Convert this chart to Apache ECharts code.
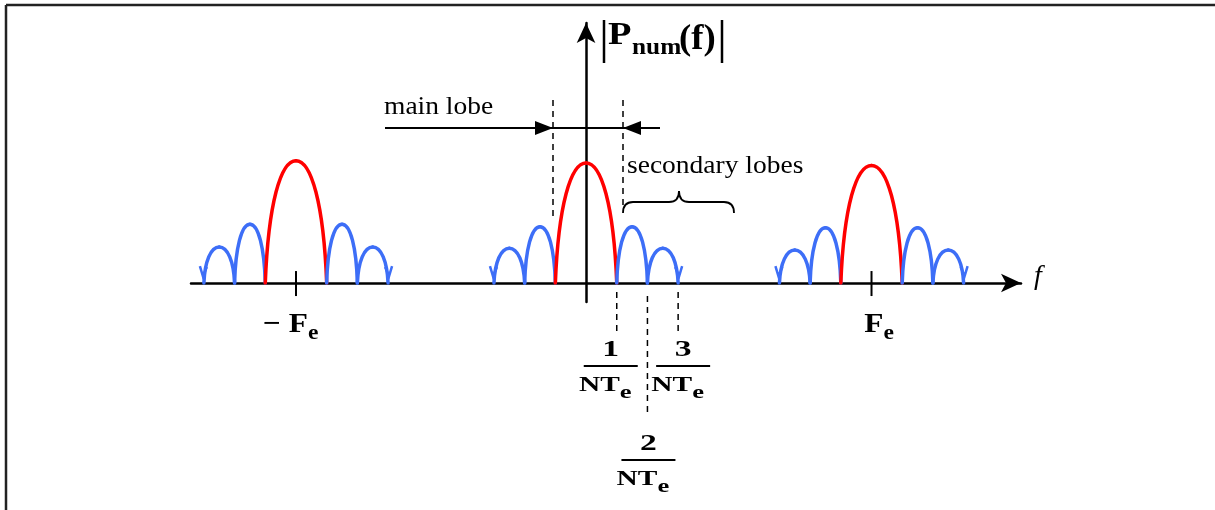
<!DOCTYPE html>
<html>
<head>
<meta charset="utf-8">
<script src="https://cdn.jsdelivr.net/npm/echarts@6/dist/echarts.min.js"></script>
<style>
  html, body { margin: 0; padding: 0; background: #fff; }
  #chart { width: 1215px; height: 510px; }
</style>
</head>
<body>
<div id="chart"></div>
<script>
// |Pnum(f)| : the same lobe pattern repeated around -Fe, 0 and Fe
// x unit = 1/NTe, y unit = height of the central main lobe
const groupNames = ['-Fe', '0', 'Fe'];
const groupCenters = [-9.45, 0, 9.3];
const lobeStarts = [-3, -2, -1, 1, 2];
const lobeEnds = [-2, -1, 1, 2, 3];
const mainLobeHeights = [1.02, 1.0, 0.98];
const firstSideLobeHeights = [0.49, 0.47, 0.46];
const secondSideLobeHeights = [0.3, 0.29, 0.275];
const nullPositions = [1, 2, 3];
const nullNumerators = ['1', '2', '3'];

const RED = '#ff0000';
const BLUE = '#3d6ef7';
const SERIF = '"Liberation Serif", "DejaVu Serif", serif';

// rows: [x0, x1, height, isMain, outerEnd(-1 left, 1 right, 0 none)]
const lobeRows = [];
groupCenters.forEach((c, g) => {
  const heights = [secondSideLobeHeights[g], firstSideLobeHeights[g], mainLobeHeights[g],
    firstSideLobeHeights[g], secondSideLobeHeights[g]];
  lobeStarts.forEach((s, i) => {
    const outer = i === 0 ? -1 : (i === lobeStarts.length - 1 ? 1 : 0);
    lobeRows.push([c + s, c + lobeEnds[i], heights[i], i === 2 ? 1 : 0, outer]);
  });
});

const tickRows = [[groupCenters[0], 0], [groupCenters[2], 1]];
const nullRows = nullPositions.map((p, i) => [p, i]);

function renderLobe(params, api) {
  const x0 = api.value(0), x1 = api.value(1), h = api.value(2);
  const isMain = api.value(3) === 1;
  const outer = api.value(4);
  const a = api.coord([x0, 0]);
  const b = api.coord([x1, 0]);
  const m = api.coord([(x0 + x1) / 2, h]);
  const H = a[1] - m[1];
  const hw = (b[0] - a[0]) / 2;
  const color = isMain ? RED : BLUE;
  const k1 = isMain ? 0.1 : 0.06, k2 = isMain ? 0.5 : 0.55, kv = isMain ? 0.65 : 0.6;
  const style = { stroke: color, lineWidth: 3.5, fill: null, lineCap: 'round' };
  const children = [
    { type: 'bezierCurve', shape: { x1: a[0], y1: a[1], cpx1: a[0] + hw * k1, cpy1: a[1] - H * kv,
      cpx2: m[0] - hw * k2, cpy2: m[1], x2: m[0], y2: m[1] }, style: style },
    { type: 'bezierCurve', shape: { x1: m[0], y1: m[1], cpx1: m[0] + hw * k2, cpy1: m[1],
      cpx2: b[0] - hw * k1, cpy2: b[1] - H * kv, x2: b[0], y2: b[1] }, style: style }
  ];
  if (outer !== 0) {
    const e = outer < 0 ? a : b;
    const d = outer < 0 ? -1 : 1;
    children.push({ type: 'polyline', shape: { points: [[e[0] + d * 4, e[1] - 17], [e[0] + d * 1, e[1] - 7], [e[0] - d * 3, e[1] - 16]] },
      style: { stroke: color, lineWidth: 2.5, fill: null } });
  }
  return { type: 'group', children: children };
}

function renderTick(params, api) {
  const c = api.value(0);
  const isRight = api.value(1) === 1;
  const p = api.coord([c, 0]);
  const anchor = p[0] + 12;
  return {
    type: 'group',
    children: [
      { type: 'line', shape: { x1: p[0], y1: p[1] - 12, x2: p[0], y2: p[1] + 13 }, style: { stroke: '#000', lineWidth: 2 } },
      { type: 'text', x: anchor, y: p[1] + 42, scaleX: 1.12,
        style: { text: isRight ? 'F' : '− F', font: 'bold 28px ' + SERIF, fill: '#000', align: 'right', verticalAlign: 'middle' } },
      { type: 'text', x: anchor, y: p[1] + 51, scaleX: 1.12,
        style: { text: 'e', font: 'bold 21px ' + SERIF, fill: '#000', align: 'left', verticalAlign: 'middle' } }
    ]
  };
}

function renderNull(params, api) {
  const k = api.value(1);
  const p = api.coord([api.value(0), 0]);
  const low = k === 1;
  const shift = [-6, 1, 5][k];
  const cx = p[0] + shift;
  const dashTop = p[1] + (low ? 13 : 9);
  const dashBottom = p[1] + (low ? 133 : 50);
  const base = p[1] + (low ? 177 : 83);
  const stretch = 1.4;
  return {
    type: 'group',
    children: [
      { type: 'line', shape: { x1: p[0], y1: dashTop, x2: p[0], y2: dashBottom },
        style: { stroke: '#000', lineWidth: 1.5, lineDash: [6, 5] } },
      { type: 'text', x: cx, y: base - 16, scaleX: stretch,
        style: { text: nullNumerators[k], font: 'bold 24px ' + SERIF, fill: '#000', align: 'center', verticalAlign: 'middle' } },
      { type: 'line', shape: { x1: cx - 27, y1: base, x2: cx + 27, y2: base }, style: { stroke: '#000', lineWidth: 2 } },
      { type: 'text', x: cx + 9, y: base + 20, scaleX: stretch,
        style: { text: 'NT', font: 'bold 21px ' + SERIF, fill: '#000', align: 'right', verticalAlign: 'middle' } },
      { type: 'text', x: cx + 9, y: base + 27, scaleX: stretch,
        style: { text: 'e', font: 'bold 19px ' + SERIF, fill: '#000', align: 'left', verticalAlign: 'middle' } }
    ]
  };
}

const chart = echarts.init(document.getElementById('chart'));

const option = {
  backgroundColor: '#fff',
  animation: false,
  grid: { left: 191, right: 194, top: 23, bottom: 208 },
  xAxis: {
    type: 'value', min: -12.87, max: 14.17,
    axisLine: { onZero: true, symbol: ['none', 'arrow'], symbolSize: [14, 20], lineStyle: { color: '#000', width: 2.5 } },
    axisTick: { show: false }, axisLabel: { show: false }, splitLine: { show: false }
  },
  yAxis: {
    type: 'value', min: -0.158, max: 2.167,
    axisLine: { onZero: true, symbol: ['none', 'arrow'], symbolSize: [14, 20], lineStyle: { color: '#000', width: 2.5 } },
    axisTick: { show: false }, axisLabel: { show: false }, splitLine: { show: false }
  },
  series: [
    { type: 'custom', name: 'lobes', clip: false, renderItem: renderLobe, data: lobeRows, z: 3 },
    { type: 'custom', name: 'ticks', clip: false, renderItem: renderTick, data: tickRows, z: 4 },
    { type: 'custom', name: 'nulls', clip: false, renderItem: renderNull, data: nullRows, z: 4 }
  ],
  graphic: [
    // frame
    { type: 'line', shape: { x1: 6, y1: 5, x2: 1215, y2: 5 }, style: { stroke: '#222', lineWidth: 2.5 } },
    { type: 'line', shape: { x1: 6, y1: 5, x2: 6, y2: 510 }, style: { stroke: '#222', lineWidth: 2.5 } },
    // |Pnum(f)|
    { type: 'line', shape: { x1: 604, y1: 20, x2: 604, y2: 63 }, style: { stroke: '#000', lineWidth: 2.5 } },
    { type: 'line', shape: { x1: 722, y1: 20, x2: 722, y2: 63 }, style: { stroke: '#000', lineWidth: 2.5 } },
    { type: 'text', x: 608, y: 36, scaleX: 1.2, style: { text: 'P', font: 'bold 32px ' + SERIF, fill: '#000', align: 'left', verticalAlign: 'middle' } },
    { type: 'text', x: 632, y: 48, scaleX: 1.1, style: { text: 'num', font: 'bold 23px ' + SERIF, fill: '#000', align: 'left', verticalAlign: 'middle' } },
    { type: 'text', x: 679, y: 40, scaleX: 1.05, style: { text: '(f)', font: 'bold 35px ' + SERIF, fill: '#000', align: 'left', verticalAlign: 'middle' } },
    // main lobe annotation
    { type: 'text', x: 384, y: 107, scaleX: 1.1, style: { text: 'main lobe', font: '25px ' + SERIF, fill: '#000', align: 'left', verticalAlign: 'middle' } },
    { type: 'line', shape: { x1: 385, y1: 128, x2: 660, y2: 128 }, style: { stroke: '#000', lineWidth: 2 } },
    { type: 'polygon', shape: { points: [[553, 128], [535, 121], [535, 135]] }, style: { fill: '#000' } },
    { type: 'polygon', shape: { points: [[623, 128], [641, 121], [641, 135]] }, style: { fill: '#000' } },
    { type: 'line', shape: { x1: 553, y1: 100, x2: 553, y2: 216 }, style: { stroke: '#000', lineWidth: 1.5, lineDash: [6, 5] } },
    { type: 'line', shape: { x1: 623, y1: 100, x2: 623, y2: 210 }, style: { stroke: '#000', lineWidth: 1.5, lineDash: [6, 5] } },
    // secondary lobes annotation
    { type: 'text', x: 627, y: 166, scaleX: 1.1, style: { text: 'secondary lobes', font: '25px ' + SERIF, fill: '#000', align: 'left', verticalAlign: 'middle' } },
    { type: 'bezierCurve', shape: { x1: 623, y1: 213, cpx1: 623, cpy1: 202, x2: 633, y2: 202 }, style: { stroke: '#000', lineWidth: 1.8, fill: null } },
    { type: 'line', shape: { x1: 633, y1: 202, x2: 669, y2: 202 }, style: { stroke: '#000', lineWidth: 1.8 } },
    { type: 'bezierCurve', shape: { x1: 669, y1: 202, cpx1: 679, cpy1: 202, x2: 679, y2: 191 }, style: { stroke: '#000', lineWidth: 1.8, fill: null } },
    { type: 'bezierCurve', shape: { x1: 679, y1: 191, cpx1: 679, cpy1: 202, x2: 689, y2: 202 }, style: { stroke: '#000', lineWidth: 1.8, fill: null } },
    { type: 'line', shape: { x1: 689, y1: 202, x2: 724, y2: 202 }, style: { stroke: '#000', lineWidth: 1.8 } },
    { type: 'bezierCurve', shape: { x1: 724, y1: 202, cpx1: 734, cpy1: 202, x2: 734, y2: 213 }, style: { stroke: '#000', lineWidth: 1.8, fill: null } },
    // frequency axis name
    { type: 'text', x: 1034, y: 277, style: { text: 'f', font: 'italic 28px ' + SERIF, fill: '#000', align: 'left', verticalAlign: 'middle' } }
  ]
};

chart.setOption(option);
</script>
</body>
</html>
